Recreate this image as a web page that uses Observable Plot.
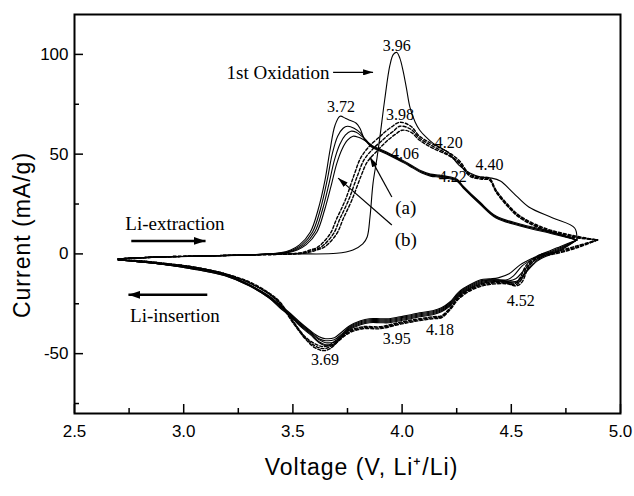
<!DOCTYPE html>
<html><head><meta charset="utf-8">
<script src="https://cdn.jsdelivr.net/npm/d3@7"></script>
<script src="https://cdn.jsdelivr.net/npm/@observablehq/plot@0.6"></script>
<style>body{margin:0;background:#fff} #chart{width:634px;height:496px}</style>
</head><body><div id="chart"></div>
<script>
// ---- axis ticks ----
const xMajor = [2.5, 3.0, 3.5, 4.0, 4.5, 5.0];
const xMinor = [2.75, 3.25, 3.75, 4.25, 4.75];
const yMajor = [-50, 0, 50, 100];
const yMinor = [-75, -25, 25, 75];

// ---- curves: [Voltage (V), Current (mA/g)] ----
const ox1 = [[2.70,-2.5],[2.90,-1.6],[3.10,-1],[3.30,-0.5],[3.50,0],[3.70,0.3],[3.775,2],[3.82,5],[3.84,8.5],[3.853,18.5],[3.867,35.5],[3.885,48],[3.90,60],[3.92,77],[3.944,94.5],[3.96,100],[3.976,101],[3.99,98],[4.004,92],[4.02,83],[4.036,73.5],[4.06,66],[4.081,62],[4.11,58.5],[4.141,55.5],[4.18,53],[4.21,51],[4.23,48.5],[4.26,44.5],[4.31,40.5],[4.36,38.5],[4.41,38],[4.45,36.5],[4.51,30.5],[4.58,23.5],[4.69,18],[4.79,13],[4.80,7]];
const oxS2 = [[2.70,-2.5],[2.90,-1.5],[3.10,-1],[3.30,-0.5],[3.44,0.5],[3.49,2],[3.53,4.5],[3.58,11],[3.615,22],[3.647,37],[3.67,52],[3.693,64.5],[3.716,69],[3.74,68],[3.76,67],[3.79,65.5],[3.807,63],[3.83,57],[3.86,54],[3.90,52],[3.94,50],[3.976,48],[4.01,46],[4.05,43.5],[4.09,41],[4.13,39.5],[4.17,39],[4.20,38.5],[4.25,37],[4.28,33.5],[4.356,25.5],[4.43,18.5],[4.54,14.5],[4.69,10.5],[4.80,7]];
const oxS3 = [[2.70,-2.5],[2.90,-1.5],[3.10,-1],[3.30,-0.5],[3.45,0.5],[3.50,2],[3.54,4.5],[3.59,11],[3.625,22],[3.657,37],[3.68,50],[3.705,59],[3.73,63],[3.75,64],[3.78,63],[3.81,60.5],[3.83,57.5],[3.86,54.5],[3.90,52.5],[3.94,50.5],[3.976,48.5],[4.01,46.5],[4.05,44],[4.09,41.5],[4.13,40],[4.17,39.5],[4.20,39],[4.25,37.5],[4.28,34],[4.356,26],[4.43,19],[4.54,15],[4.69,11],[4.80,7]];
const oxS4 = [[2.70,-2.5],[2.90,-1.5],[3.10,-1],[3.30,-0.5],[3.46,0.5],[3.51,2],[3.55,4.5],[3.60,11],[3.635,22],[3.667,36],[3.69,47],[3.715,55],[3.74,59.5],[3.765,61.5],[3.79,61],[3.815,59],[3.835,57],[3.86,54],[3.90,52],[3.94,50],[3.976,48],[4.01,46],[4.05,43.5],[4.09,41],[4.13,39.5],[4.17,39],[4.20,38.5],[4.25,37],[4.28,33.5],[4.356,25.5],[4.43,18.5],[4.54,14.5],[4.69,10.5],[4.80,7]];
const oxS5 = [[2.70,-2.5],[2.90,-1.5],[3.10,-1],[3.30,-0.5],[3.47,0.5],[3.52,2],[3.56,4.5],[3.61,11],[3.645,22],[3.677,35],[3.70,45],[3.725,52.5],[3.75,57],[3.775,59],[3.80,58.5],[3.82,57.5],[3.84,56],[3.86,53.5],[3.90,51.5],[3.94,49.5],[3.976,47.5],[4.01,45.5],[4.05,43],[4.09,40.5],[4.13,39],[4.17,38.5],[4.20,38],[4.25,36.5],[4.28,33],[4.356,25],[4.43,18],[4.54,14],[4.69,10],[4.80,7]];
const oxD1 = [[2.70,-2.5],[2.90,-1.5],[3.10,-1],[3.30,-0.5],[3.53,0.5],[3.58,2],[3.615,3.5],[3.67,10],[3.70,17.5],[3.74,27],[3.78,39.5],[3.81,48],[3.85,54],[3.90,59],[3.92,61],[3.95,63.5],[3.99,66],[4.04,64],[4.08,59],[4.14,55],[4.21,51],[4.26,47],[4.31,40],[4.36,38.5],[4.40,38],[4.43,32],[4.49,24],[4.54,19],[4.65,13],[4.77,9.5],[4.895,7]];
const oxD2 = [[2.70,-2.5],[2.90,-1.5],[3.10,-1],[3.30,-0.5],[3.545,0.5],[3.595,2],[3.63,3.5],[3.685,10],[3.715,17.5],[3.755,27],[3.795,39],[3.825,47],[3.865,52.5],[3.91,57],[3.93,59],[3.96,61.5],[3.99,64],[4.04,62.5],[4.08,58],[4.14,54],[4.21,50],[4.26,46],[4.31,39.5],[4.36,38],[4.40,37.5],[4.43,31.5],[4.49,23.5],[4.54,18.5],[4.65,12.5],[4.77,9],[4.895,7]];
const oxD3 = [[2.70,-2.5],[2.90,-1.5],[3.10,-1],[3.30,-0.5],[3.56,0.5],[3.61,2],[3.645,3.5],[3.70,10],[3.73,17.5],[3.77,27],[3.81,38.5],[3.84,46],[3.88,51],[3.92,55.5],[3.94,57.5],[3.97,60],[4.00,62],[4.04,61],[4.08,57],[4.14,53],[4.21,49.5],[4.26,45.5],[4.31,39],[4.36,37.5],[4.40,37],[4.43,31],[4.49,23],[4.54,18],[4.65,12],[4.77,8.5],[4.895,7]];

const redS1 = [[4.80,7],[4.72,3.5],[4.675,1.5],[4.60,-2],[4.54,-5.5],[4.49,-10],[4.44,-12],[4.40,-12.5],[4.36,-13],[4.31,-15.5],[4.26,-19],[4.22,-24],[4.18,-27],[4.14,-28.5],[4.08,-29.5],[4.04,-30.5],[3.99,-31.5],[3.94,-32.5],[3.90,-32.5],[3.85,-32.5],[3.81,-33.5],[3.76,-36],[3.72,-39.5],[3.69,-42],[3.65,-42.5],[3.62,-41.5],[3.58,-38.5],[3.53,-34],[3.49,-30],[3.44,-25.5],[3.39,-21],[3.30,-15.5],[3.19,-10.5],[3.04,-7],[2.89,-5],[2.80,-4],[2.70,-3]];
const redS2 = [[4.80,7],[4.72,3],[4.675,1],[4.60,-2.5],[4.55,-6],[4.51,-11],[4.48,-13],[4.44,-13],[4.40,-13],[4.36,-13.5],[4.31,-16],[4.26,-19.5],[4.22,-24.5],[4.18,-27.5],[4.14,-29],[4.08,-30],[4.04,-31],[3.99,-32],[3.94,-33],[3.90,-33],[3.85,-33],[3.81,-34],[3.76,-36.5],[3.72,-40.5],[3.69,-43],[3.65,-43.5],[3.62,-42.5],[3.58,-39],[3.53,-34.5],[3.49,-30.5],[3.44,-26],[3.39,-21.5],[3.30,-15.5],[3.19,-10.5],[3.04,-7],[2.89,-5],[2.80,-4],[2.70,-3]];
const redS3 = [[4.80,7],[4.72,2.5],[4.675,0.5],[4.61,-3],[4.56,-8],[4.52,-12.5],[4.49,-13.5],[4.44,-13],[4.40,-13],[4.36,-14],[4.31,-16.5],[4.26,-20],[4.22,-25],[4.18,-28],[4.14,-29.5],[4.08,-30.5],[4.04,-31.5],[3.99,-32.5],[3.94,-33.5],[3.90,-33.5],[3.85,-33.5],[3.81,-34.5],[3.76,-37],[3.72,-41],[3.69,-44],[3.65,-44.5],[3.62,-43],[3.58,-39.5],[3.53,-35],[3.49,-31],[3.44,-26],[3.39,-21.5],[3.30,-15.5],[3.19,-10.5],[3.04,-7],[2.89,-5],[2.80,-4],[2.70,-3]];
const redS4 = [[4.80,7],[4.72,2],[4.675,0],[4.62,-3],[4.57,-8.5],[4.53,-13.5],[4.50,-14],[4.45,-13.5],[4.40,-13.5],[4.36,-14.5],[4.31,-17],[4.26,-20.5],[4.22,-25.5],[4.18,-28.5],[4.14,-30],[4.08,-31],[4.04,-32],[3.99,-33],[3.94,-34],[3.90,-34],[3.85,-34],[3.81,-35],[3.76,-37.5],[3.72,-41.5],[3.69,-45],[3.65,-45.5],[3.62,-44],[3.58,-40],[3.53,-35.5],[3.49,-31],[3.44,-26.5],[3.39,-22],[3.30,-16],[3.19,-11],[3.04,-7.5],[2.89,-5],[2.80,-4],[2.70,-3]];
const redS5 = [[4.80,7],[4.72,1.5],[4.675,-0.5],[4.62,-3.5],[4.57,-9],[4.535,-14],[4.51,-14.5],[4.46,-14],[4.40,-14],[4.36,-15],[4.31,-17.5],[4.26,-21],[4.22,-26],[4.18,-29],[4.14,-30.5],[4.08,-31.5],[4.04,-32.5],[3.99,-33.5],[3.94,-34.5],[3.90,-34.5],[3.85,-34.5],[3.81,-35.5],[3.76,-38],[3.72,-42],[3.69,-45.5],[3.65,-46],[3.62,-44.5],[3.58,-40.5],[3.53,-36],[3.49,-31.5],[3.44,-27],[3.39,-22],[3.30,-16],[3.19,-11],[3.04,-7.5],[2.89,-5],[2.80,-4],[2.70,-3]];
const redD1 = [[4.895,7],[4.80,4],[4.70,1],[4.63,-0.5],[4.57,-5.5],[4.54,-12],[4.515,-15],[4.46,-14],[4.39,-14.5],[4.32,-17],[4.26,-21.5],[4.22,-27],[4.18,-31],[4.14,-31.5],[4.05,-33],[3.98,-34.5],[3.90,-36.5],[3.82,-36.5],[3.76,-38.5],[3.716,-42],[3.67,-45.5],[3.64,-46.5],[3.60,-45],[3.556,-41.5],[3.50,-33.5],[3.44,-24],[3.39,-19.5],[3.30,-14],[3.19,-10],[3.04,-6.5],[2.89,-4.5],[2.80,-3.5],[2.70,-3]];
const redD2 = [[4.895,7],[4.80,3.5],[4.70,0.5],[4.63,-1],[4.575,-6],[4.545,-13],[4.52,-15.5],[4.47,-14.5],[4.39,-15],[4.32,-17.5],[4.26,-22],[4.22,-27.5],[4.18,-31.5],[4.14,-32],[4.05,-33.5],[3.98,-35],[3.90,-37],[3.82,-37],[3.76,-39],[3.716,-42.5],[3.67,-46.5],[3.64,-47.5],[3.60,-46],[3.556,-42],[3.50,-34],[3.44,-24.5],[3.39,-20],[3.30,-14.5],[3.19,-10],[3.04,-6.5],[2.89,-4.5],[2.80,-3.5],[2.70,-3]];
const redD3 = [[4.895,7],[4.80,3],[4.70,0],[4.63,-1.5],[4.58,-6.5],[4.55,-14],[4.525,-16],[4.48,-15],[4.39,-15.5],[4.32,-18],[4.26,-22.5],[4.22,-28],[4.18,-32],[4.14,-32.5],[4.05,-34],[3.98,-35.5],[3.90,-37.5],[3.82,-37.5],[3.76,-39.5],[3.716,-43],[3.67,-47.5],[3.64,-48.5],[3.60,-47],[3.556,-42.5],[3.50,-34.5],[3.44,-25],[3.39,-20],[3.30,-14.5],[3.19,-10],[3.04,-6.5],[2.89,-4.5],[2.80,-3.5],[2.70,-3]];

const solidCurves = {ox1, oxS2, oxS3, oxS4, oxS5, redS1, redS2, redS3, redS4, redS5};
const dashedCurves = {oxD1, oxD2, oxD3, redD1, redD2, redD3};

// ---- annotations (data coordinates) ----
const peakLabels = [
  {t:"3.72", v:3.72, i:73.5}, {t:"3.96", v:3.976, i:104.5}, {t:"3.98", v:3.99, i:69.5},
  {t:"4.20", v:4.214, i:55.5}, {t:"4.06", v:4.013, i:50}, {t:"4.40", v:4.40, i:44.5},
  {t:"4.22", v:4.232, i:38.5}, {t:"3.69", v:3.647, i:-53}, {t:"3.95", v:3.976, i:-42.5},
  {t:"4.18", v:4.173, i:-38}, {t:"4.52", v:4.543, i:-23.5}
];
const noteLabels = [
  {t:"1st Oxidation", v:3.432, i:90.5}, {t:"Li-extraction", v:2.96, i:15},
  {t:"Li-insertion", v:2.96, i:-31}, {t:"(a)", v:4.017, i:23}, {t:"(b)", v:4.017, i:7}
];
const thinArrows = [
  {v1:3.684, i1:91, v2:3.867, i2:91},
  {v1:3.953, i1:28.5, v2:3.853, i2:48.5},
  {v1:3.953, i1:14.5, v2:3.707, i2:38}
];
const thickArrows = [
  {v1:2.76, i1:6.5, v2:3.10, i2:6.5},
  {v1:3.108, i1:-20.5, v2:2.747, i2:-20.5}
];

function toRows(obj) {
  const rows = [];
  for (const [name, pts] of Object.entries(obj)) pts.forEach(([v, i]) => rows.push({name, v, i}));
  return rows;
}

const serif = "'Liberation Serif', 'Times New Roman', serif";
const sans = "'Liberation Sans', Arial, sans-serif";

// filled triangular arrowhead marker
function headMarker(len, wid) {
  return (color, context) => {
    const ns = "http://www.w3.org/2000/svg";
    const doc = (context && context.document) || document;
    const m = doc.createElementNS(ns, "marker");
    m.setAttribute("viewBox", `0 ${-wid / 2} ${len} ${wid}`);
    m.setAttribute("markerWidth", len);
    m.setAttribute("markerHeight", wid);
    m.setAttribute("markerUnits", "userSpaceOnUse");
    m.setAttribute("refX", len);
    m.setAttribute("refY", 0);
    m.setAttribute("orient", "auto");
    const p = doc.createElementNS(ns, "path");
    p.setAttribute("d", `M0,${-wid / 2}L${len},0L0,${wid / 2}Z`);
    p.setAttribute("fill", color || "black");
    p.setAttribute("stroke", "none");
    m.appendChild(p);
    return m;
  };
}

function arrowMarks(useMarkers) {
  if (useMarkers) return [
    Plot.link(thinArrows, {x1: "v1", y1: "i1", x2: "v2", y2: "i2", stroke: "black", strokeWidth: 1.2, markerEnd: headMarker(10, 6)}),
    Plot.link(thickArrows, {x1: "v1", y1: "i1", x2: "v2", y2: "i2", stroke: "black", strokeWidth: 2.6, markerEnd: headMarker(12, 8)})
  ];
  return [
    Plot.arrow(thinArrows, {x1: "v1", y1: "i1", x2: "v2", y2: "i2", stroke: "black", strokeWidth: 1.3, headLength: 9, headAngle: 35}),
    Plot.arrow(thickArrows, {x1: "v1", y1: "i1", x2: "v2", y2: "i2", stroke: "black", strokeWidth: 2.5, headLength: 10, headAngle: 40})
  ];
}

function build(useMarkers) {
  return Plot.plot({
    width: 634, height: 496,
    marginLeft: 74, marginRight: 14, marginTop: 14, marginBottom: 83,
    style: {fontFamily: sans, background: "#fff", color: "black"},
    x: {domain: [2.5, 5.0]},
    y: {domain: [-80, 120]},
    marks: [
      Plot.line(toRows(solidCurves), {x: "v", y: "i", z: "name", stroke: "black", strokeWidth: 1.1, curve: "catmull-rom"}),
      Plot.line(toRows(dashedCurves), {x: "v", y: "i", z: "name", stroke: "black", strokeWidth: 1.4, strokeDasharray: "3,2", curve: "catmull-rom"}),
      Plot.frame({stroke: "black", strokeWidth: 2}),
      Plot.axisX({ticks: xMajor, tickSize: -9, tickPadding: 20, fontSize: 17, tickFormat: d3.format(".1f"), label: null, strokeWidth: 1.5}),
      Plot.axisX({ticks: xMinor, tickSize: -5, tickFormat: () => "", label: null, strokeWidth: 1.5}),
      Plot.axisY({ticks: yMajor, tickSize: -9, tickPadding: 15, fontSize: 17, tickFormat: d => String(d), label: null, strokeWidth: 1.5}),
      Plot.axisY({ticks: yMinor, tickSize: -5, tickFormat: () => "", label: null, strokeWidth: 1.5}),
      Plot.text(["Voltage (V, Li\u207A/Li)"], {frameAnchor: "bottom", lineAnchor: "middle", textAnchor: "middle", dy: 54, dx: 14, fontSize: 23}),
      Plot.text(["Current (mA/g)"], {frameAnchor: "left", lineAnchor: "middle", textAnchor: "middle", dx: -52, dy: 21, rotate: -90, fontSize: 23}),
      Plot.text(peakLabels, {x: "v", y: "i", text: "t", fontFamily: serif, fontSize: 16}),
      Plot.text(noteLabels, {x: "v", y: "i", text: "t", fontFamily: serif, fontSize: 19}),
      ...arrowMarks(useMarkers)
    ]
  });
}

let chart;
try { chart = build(true); } catch (e) { chart = build(false); }
chart.querySelectorAll("text").forEach(t => { if (/Voltage|Current/.test(t.textContent)) t.style.letterSpacing = "1px"; });
document.getElementById("chart").appendChild(chart);
</script>
</body></html>
